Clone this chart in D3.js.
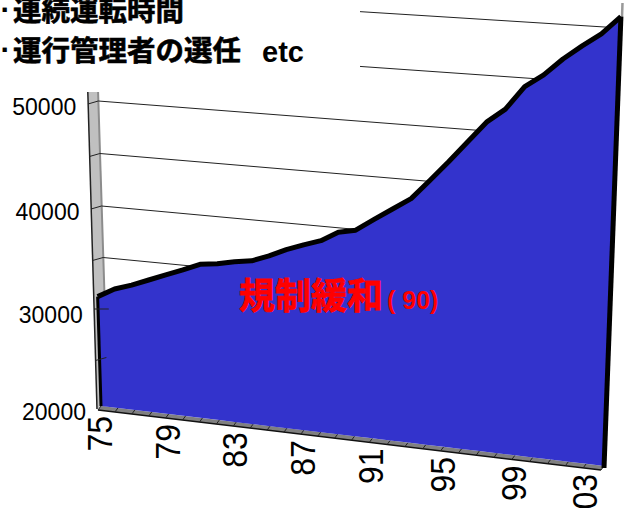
<!DOCTYPE html>
<html>
<head>
<meta charset="utf-8">
<script src="https://cdn.jsdelivr.net/npm/d3@7"></script>
<style>
  html, body { margin: 0; padding: 0; background: #fff; overflow: hidden; }
  svg { display: block; }
</style>
</head>
<body>
<div id="vis"></div>
<script>
const WIDTH = 627;
const HEIGHT = 508;

// Datos
const years = d3.range(1975, 2005);
const values = [31200, 32100, 32650, 33300, 33950, 34600, 35300, 35500, 35850, 36100,
                36730, 37480, 38100, 38650, 39600, 39950, 41100, 42200, 43300, 45100,
                46940, 48870, 50800, 52100, 54240, 55400, 56930, 58200, 59380, 61000];
const xTickYears = [1975, 1979, 1983, 1987, 1991, 1995, 1999, 2003];
const xTickLabels = ["75", "79", "83", "87", "91", "95", "99", "03"];
const yTickLabels = [20000, 30000, 40000, 50000];
const gridValues = [35000, 40000, 45000, 50000, 55000, 60000];
const wallTickValues = [25000, 30000, 35000, 40000, 45000, 50000];
const notes = ["連続運転時間", "運行管理者の選任"];

const BLUE = "#3333cc";
const CJK = "'Noto Sans CJK JP', sans-serif";
const LATIN = "'Liberation Sans', Arial, sans-serif";

const svg = d3.select("#vis").append("svg").attr("width", WIDTH).attr("height", HEIGHT);

// Proyeccion 3D: dos escalas de valor (pared izquierda y derecha) y una de anios
const vStops = [20000, 30000, 40000, 50000, 60000];
const yLeft = d3.scaleLinear().domain(vStops).range([406, 309, 206, 101, -5]);
const yRight = d3.scaleLinear().domain(vStops).range([466, 360, 253, 141, 28]);
const xLeft = d3.scaleLinear().domain([20000, 60000]).range([101, 89]);
const xRight = d3.scaleLinear().domain([20000, 60000]).range([604, 620.5]);
const depth = d3.scaleLinear().domain([1975, 1990, 2004]).range([0, 0.504, 1]);
const wallRight = d3.scaleLinear().domain([20000, 60000]).range([108, 95]);
const wallLeft = d3.scaleLinear().domain([20000, 60000]).range([97, 85]);

const px = (year, v) => d3.interpolateNumber(xLeft(v), xRight(v))(depth(year));
const py = (year, v) => d3.interpolateNumber(yLeft(v), yRight(v))(depth(year));

// Pared izquierda
svg.append("polygon")
    .attr("points", [[wallLeft(20000), 409], [wallLeft(60000), yLeft(60000)],
                     [wallRight(60000), yLeft(60000)], [wallRight(20000), 406]].join(" "))
    .attr("fill", "#c0c0c0");
svg.append("line")
    .attr("x1", wallRight(20000)).attr("y1", 406)
    .attr("x2", wallRight(60000)).attr("y2", yLeft(60000))
    .attr("stroke", "#8c8c8c").attr("stroke-width", 2);
svg.append("line")
    .attr("x1", wallLeft(20000)).attr("y1", 409)
    .attr("x2", wallLeft(60000)).attr("y2", yLeft(60000))
    .attr("stroke", "#222").attr("stroke-width", 1.5);

// Lineas de la grilla
svg.selectAll(".grid").data(gridValues).join("line")
    .attr("class", "grid")
    .attr("x1", d => wallRight(d)).attr("y1", d => yLeft(d))
    .attr("x2", d => px(2004, d)).attr("y2", d => yRight(d))
    .attr("stroke", "#222").attr("stroke-width", 1);

// Tiras grises del eje derecho
svg.append("line")
    .attr("x1", 622.5).attr("y1", 3).attr("x2", 622).attr("y2", 17)
    .attr("stroke", "#999").attr("stroke-width", 2.5);

// Piso con sus marcas
const floorOffset = { x: -3, y: 4 };
svg.append("polygon")
    .attr("points", [[px(1975, 20000), py(1975, 20000)], [px(2004, 20000), py(2004, 20000)],
                     [px(2004, 20000) + floorOffset.x, py(2004, 20000) + floorOffset.y],
                     [px(1975, 20000) + floorOffset.x, py(1975, 20000) + floorOffset.y]].join(" "))
    .attr("fill", "#808080");
svg.append("line")
    .attr("x1", px(1975, 20000) + floorOffset.x).attr("y1", py(1975, 20000) + floorOffset.y)
    .attr("x2", px(2004, 20000) + floorOffset.x).attr("y2", py(2004, 20000) + floorOffset.y)
    .attr("stroke", "#111").attr("stroke-width", 1.5);
svg.selectAll(".floor-tick").data(years).join("line")
    .attr("class", "floor-tick")
    .attr("x1", d => px(d, 20000)).attr("y1", d => py(d, 20000))
    .attr("x2", d => px(d, 20000) + floorOffset.x).attr("y2", d => py(d, 20000) + floorOffset.y)
    .attr("stroke", "#222").attr("stroke-width", 1);

// Area azul
const series = years.map((year, i) => ({ year: year, value: values[i] }));
const area = d3.area()
    .x0(d => px(d.year, 20000)).y0(d => py(d.year, 20000))
    .x1(d => px(d.year, d.value)).y1(d => py(d.year, d.value));
svg.append("path").datum(series).attr("d", area).attr("fill", BLUE);

// Borde superior
const topLine = d3.line().x(d => px(d.year, d.value)).y(d => py(d.year, d.value));
svg.append("path").datum(series).attr("d", topLine)
    .attr("fill", "none").attr("stroke", "#000").attr("stroke-width", 5)
    .attr("stroke-linejoin", "round");

// Bordes laterales
svg.append("line")
    .attr("x1", px(1975, 20000)).attr("y1", py(1975, 20000))
    .attr("x2", px(1975, values[0])).attr("y2", py(1975, values[0]))
    .attr("stroke", "#000").attr("stroke-width", 3);
svg.append("line")
    .attr("x1", px(2004, 20000)).attr("y1", py(2004, 20000) + 2)
    .attr("x2", px(2004, values[29])).attr("y2", py(2004, values[29]))
    .attr("stroke", "#000").attr("stroke-width", 5);

// Marcas sobre la pared
svg.selectAll(".wall-tick").data(wallTickValues).join("line")
    .attr("class", "wall-tick")
    .attr("x1", d => wallRight(d) + (d == 30000 ? 4 : 0)).attr("y1", d => yLeft(d))
    .attr("x2", d => wallLeft(d)).attr("y2", d => yLeft(d) + (d == 30000 ? 0 : 3))
    .attr("stroke", "#222").attr("stroke-width", 1);

// Etiquetas eje Y
svg.selectAll(".y-label").data(yTickLabels).join("text")
    .attr("class", "y-label")
    .attr("x", d => wallRight(d) - 22)
    .attr("y", d => yLeft(d) + 14)
    .attr("text-anchor", "end")
    .attr("font-family", LATIN).attr("font-size", 23)
    .text(d => d);

// Etiquetas eje X (giradas y algo estiradas)
svg.selectAll(".x-label").data(xTickYears).join("text")
    .attr("class", "x-label")
    .attr("transform", (d) => `translate(${px(d, 20000) + 11}, ${py(d, 20000) + 10}) rotate(-90) scale(1, 1.12)`)
    .attr("text-anchor", "end")
    .attr("font-family", LATIN).attr("font-size", 32)
    .text((d, i) => xTickLabels[i]);

// Caja blanca del texto superior (tapa la grilla)
svg.append("rect")
    .attr("x", 0).attr("y", 0).attr("width", 360).attr("height", 92).attr("fill", "#fff");

svg.selectAll(".note").data(notes).join("text")
    .attr("class", "note")
    .attr("x", 13)
    .attr("y", (d, i) => 20.5 + i * 40)
    .attr("font-family", CJK).attr("font-weight", 700).attr("font-size", 28.5)
    .attr("stroke", "#000").attr("stroke-width", 0.6)
    .text(d => d);
svg.selectAll(".bullet").data(notes).join("text")
    .attr("class", "bullet")
    .attr("x", 0.5)
    .attr("y", (d, i) => 20 + i * 40)
    .attr("font-family", LATIN).attr("font-weight", 700).attr("font-size", 30)
    .text("·");
svg.append("text")
    .attr("x", 262).attr("y", 62)
    .attr("font-family", LATIN).attr("font-weight", 700).attr("font-size", 29)
    .text("etc");

// Anotacion en rojo
svg.append("text")
    .attr("x", 239).attr("y", 309)
    .attr("fill", "#ff0000").attr("stroke", "#ff0000").attr("stroke-width", 0.8)
    .attr("font-family", CJK).attr("font-weight", 700).attr("font-size", 36)
    .text("規制緩和");
svg.append("text")
    .attr("x", 387).attr("y", 309)
    .attr("fill", "#ff0000")
    .attr("font-family", LATIN).attr("font-weight", 700).attr("font-size", 25)
    .style("white-space", "pre")
    .text("( 90)");
</script>
</body>
</html>
